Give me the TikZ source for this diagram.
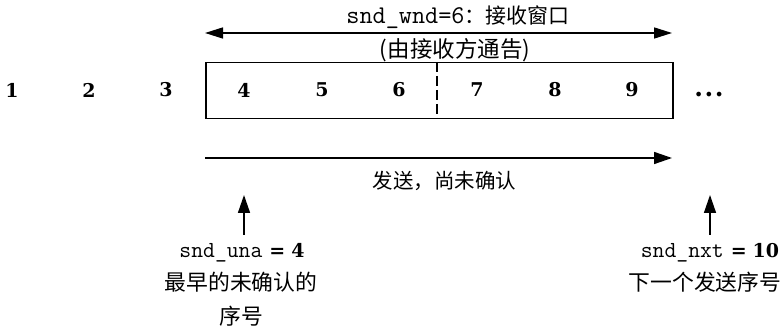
\documentclass[tikz,border=0pt]{standalone}
\usepackage{fontspec}
\setmainfont{Liberation Serif}
\newfontfamily\cjk{Noto Sans CJK SC}
\newfontfamily\numfont{DejaVu Serif}
\usetikzlibrary{arrows.meta}
\begin{document}
\begin{tikzpicture}[x=1pt,y=-1pt,
  num/.style={font=\fontsize{19}{21}\selectfont\numfont\bfseries, inner sep=0pt},
  cjklab/.style={font=\fontsize{21.8}{24}\selectfont\cjk, inner sep=0pt},
  arr/.style={line width=1.5pt, -{Triangle[length=18pt,width=12pt]}},
  darr/.style={line width=1.5pt, {Triangle[length=18pt,width=11pt]}-{Triangle[length=18pt,width=11pt]}},
  boxline/.style={line width=1.5pt}]
\useasboundingbox (0,0) rectangle (781,328);
% window box
\node[boxline, draw, minimum width=467pt, minimum height=56pt, inner sep=0pt, anchor=north west] (win) at (205,62) {};
\coordinate (dtop) at (437,62);
\coordinate (dbot) at (437,118);
\draw[line width=1.8pt, dash pattern=on 10pt off 4pt] (dtop) -- (dbot);
% numbers
\node[num] (n1) at (12,90) {1};
\node[num] (n2) at (89,90) {2};
\node[num] (n3) at (166,90) {3};
\node[num] (n4) at (244,90) {4};
\node[num] (n5) at (322,90) {5};
\node[num] (n6) at (399,90) {6};
\node[num] (n7) at (477,90) {7};
\node[num] (n8) at (555,90) {8};
\node[num] (n9) at (632,90) {9};
\node[num, anchor=base, font=\fontsize{25}{27}\selectfont\numfont\bfseries] (ndots) at (709,97) {.\kern1.5pt.\kern1.5pt.};
% top arrow
\node[inner sep=0pt] (wtop) at (458,17) {{\ttfamily\fontsize{25.5}{27}\selectfont snd\_wnd=6}{\cjk\fontsize{21}{23}\selectfont ：接收窗口}};
\coordinate (tl) at (205,33);
\coordinate (tr) at (672,33);
\draw[darr] (tl) -- (tr);
\node[inner sep=0pt, font=\fontsize{22.5}{24}\selectfont\cjk] (adv) at (455,50) {(由接收方通告)};
% send arrow
\coordinate (sl) at (205,158);
\coordinate (sr) at (672,158);
\draw[arr] (sl) -- (sr);
\node[inner sep=0pt, font=\fontsize{20.5}{22}\selectfont\cjk] (sent) at (444.5,181) {发送，尚未确认};
% snd_una
\coordinate (ua) at (244,235);
\coordinate (ub) at (244,195);
\draw[arr] (ua) -- (ub);
\node[inner sep=0pt] (una) at (242,253) {{\ttfamily\fontsize{23}{25}\selectfont snd\_una}\hspace{7pt}{\fontsize{19}{21}\selectfont\numfont\bfseries =\hspace{6pt}4}};
\node[cjklab] (una1) at (241,282.5) {最早的未确认的};
\node[cjklab] (una2) at (241,316) {序号};
% snd_nxt
\coordinate (na) at (710,235);
\coordinate (nb) at (710,195);
\draw[arr] (na) -- (nb);
\node[inner sep=0pt] (nxt) at (710,253) {{\ttfamily\fontsize{23}{25}\selectfont snd\_nxt}\hspace{7pt}{\fontsize{19}{21}\selectfont\numfont\bfseries =\hspace{6pt}10}};
\node[cjklab] (nxt1) at (705,282.5) {下一个发送序号};
\end{tikzpicture}
\end{document}
